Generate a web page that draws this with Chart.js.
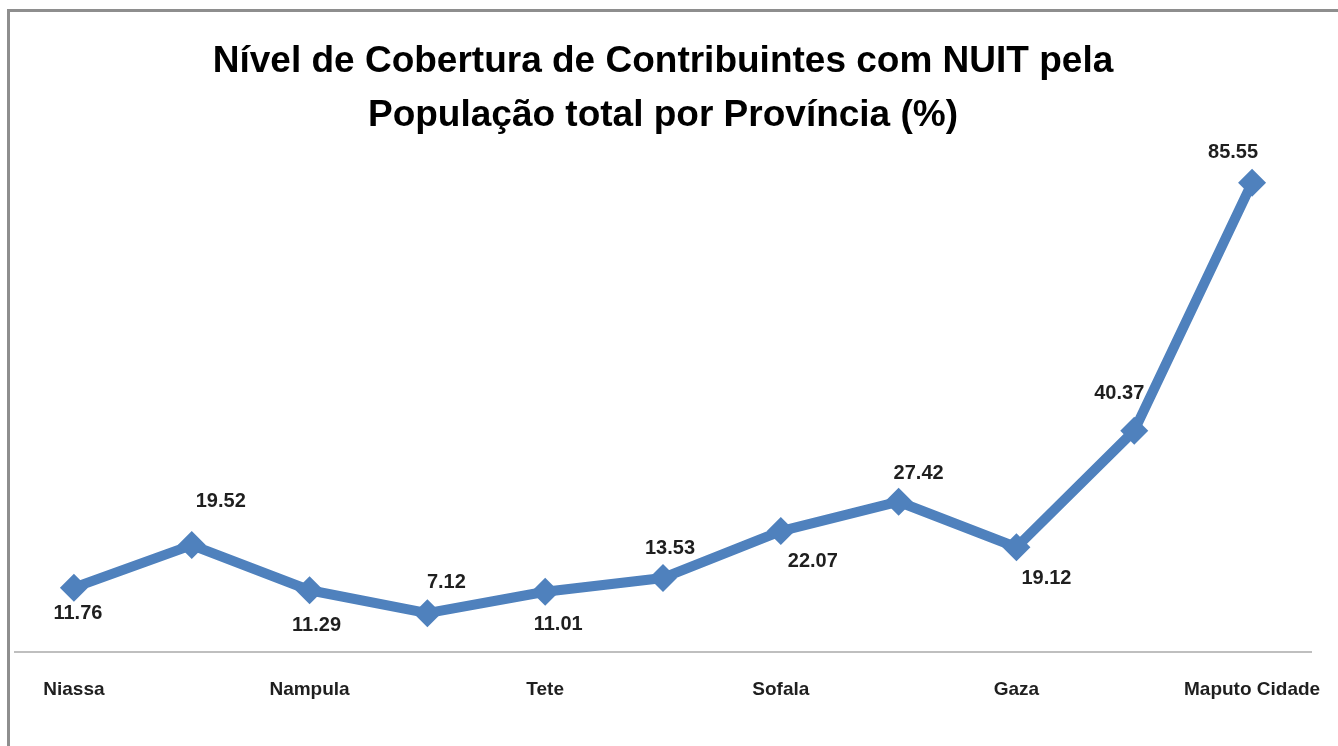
<!DOCTYPE html>
<html>
<head>
<meta charset="utf-8">
<script src="https://cdn.jsdelivr.net/npm/chart.js@4/dist/chart.umd.min.js"></script>
<style>
  html, body { margin: 0; padding: 0; background: #fff; overflow: hidden; }
  #frame {
    position: absolute; left: 7px; top: 9px;
    width: 1400px; height: 800px;
    border-left: 3px solid #8e8e8e; border-top: 3px solid #8e8e8e;
  }
  #wrap { position: absolute; left: 0; top: 0; width: 1338px; height: 746px; }
</style>
</head>
<body>
<div id="frame"></div>
<div id="wrap"><canvas id="nuitChart"></canvas></div>
<script>
var provincias = ["Niassa", "Cabo Delgado", "Nampula", "Zambézia", "Tete", "Manica",
                  "Sofala", "Inhambane", "Gaza", "Maputo Província", "Maputo Cidade"];
var cobertura = [11.76, 19.52, 11.29, 7.12, 11.01, 13.53, 22.07, 27.42, 19.12, 40.37, 85.55];
var shownTicks = ["Niassa", "Nampula", "Tete", "Sofala", "Gaza", "Maputo Cidade"];

// where each value label sits relative to its point (px)
var labelOffsets = [[4, 26], [29, -44], [7, 35], [19, -31], [13, 33], [7, -29],
                    [32, 30], [20, -28], [30, 31], [-15, -37], [-19, -30]];

var blue = "rgb(79, 129, 189)";

var valueLabels = {
  id: 'valueLabels',
  afterDatasetsDraw: function (chart) {
    var ctx = chart.ctx;
    var meta = chart.getDatasetMeta(0);
    ctx.save();
    ctx.font = "bold 20px 'Liberation Sans', Arial, sans-serif";
    ctx.fillStyle = "#1f1f1f";
    ctx.textAlign = "center";
    ctx.textBaseline = "middle";
    meta.data.forEach(function (pt, i) {
      var off = labelOffsets[i];
      ctx.fillText(cobertura[i].toFixed(2), pt.x + off[0], pt.y + off[1]);
    });
    ctx.restore();
  }
};

var ctx = document.getElementById('nuitChart');
var nuitChart = new Chart(ctx, {
  type: 'line',
  data: {
    labels: provincias,
    datasets: [
      {
        data: cobertura,
        borderColor: blue,
        backgroundColor: blue,
        borderWidth: 10,
        borderJoinStyle: 'round',
        borderCapStyle: 'round',
        tension: 0,
        pointStyle: 'rectRot',
        pointRadius: 14,
        pointBorderWidth: 0,
        pointBackgroundColor: blue
      }
    ]
  },
  options: {
    responsive: true,
    maintainAspectRatio: false,
    animation: false,
    layout: { padding: { left: 15, right: 27, top: 0, bottom: 19 } },
    plugins: {
      legend: { display: false },
      tooltip: { enabled: false },
      title: {
        display: true,
        text: ["Nível de Cobertura de Contribuintes com NUIT pela", "População total por Província (%)"],
        color: "#000",
        font: { family: "'Liberation Sans', Arial, sans-serif", size: 37, weight: 'bold', lineHeight: 1.45 },
        padding: { top: 35, bottom: 16 }
      }
    },
    scales: {
      x: {
        offset: true,
        grid: { display: false, drawTicks: false },
        border: { display: true, color: "#bfbfbf", width: 2 },
        afterFit: function (scale) {
          scale.paddingLeft = 0;
          scale.paddingRight = 0;
        },
        ticks: {
          autoSkip: false,
          maxRotation: 0,
          padding: 26,
          color: "#1f1f1f",
          font: { family: "'Liberation Sans', Arial, sans-serif", size: 19, weight: 'bold' },
          callback: function (value, index) {
            var name = provincias[index];
            return shownTicks.indexOf(name) >= 0 ? name : '';
          }
        }
      },
      y: {
        display: false,
        min: 0,
        max: 90
      }
    }
  },
  plugins: [valueLabels]
});
</script>
</body>
</html>
